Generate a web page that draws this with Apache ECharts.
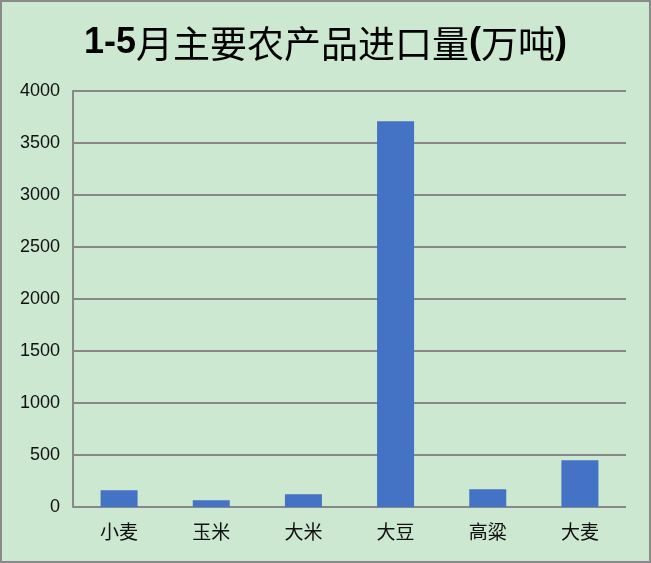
<!DOCTYPE html>
<html><head><meta charset="utf-8">
<script src="https://cdn.jsdelivr.net/npm/echarts@6/dist/echarts.min.js"></script>
<style>
html,body{margin:0;padding:0;background:#CDE8D0;}
#c{width:647px;height:559px;border:2px solid #8a8a8a;}
</style></head>
<body><div id="c"></div>
<script>
var categories = ['小麦','玉米','大米','大豆','高粱','大麦'];
var values = [160, 64, 122, 3709, 170, 449];
var yTicks = [0, 500, 1000, 1500, 2000, 2500, 3000, 3500, 4000];

var chart = echarts.init(document.getElementById('c'));
chart.setOption({
  backgroundColor: '#CDE8D0',
  animation: false,
  title: {
    text: '{a|1-5}{b|月主要农产品进口量}{a|(}{b|万吨}{a|)}',
    left: 'center',
    top: 18,
    textStyle: {
      rich: {
        a: {fontFamily: 'Liberation Sans, sans-serif', fontWeight: 'bold', fontSize: 36, color: '#000'},
        b: {fontFamily: 'Noto Sans CJK SC', fontWeight: 'normal', fontSize: 37, color: '#000'}
      }
    }
  },
  grid: {left: 71, right: 23, top: 89, bottom: 54, containLabel: false},
  xAxis: {
    type: 'category',
    data: categories,
    axisLine: {show: false},
    axisTick: {show: false},
    axisLabel: {fontFamily: 'Noto Sans CJK SC', fontSize: 19, color: '#111', margin: 15}
  },
  yAxis: {
    type: 'value',
    min: yTicks[0],
    max: yTicks[yTicks.length - 1],
    interval: 500,
    axisLine: {show: true, lineStyle: {color: '#888888', width: 2}},
    axisTick: {show: false},
    splitLine: {lineStyle: {color: '#888888', width: 2}},
    axisLabel: {fontFamily: 'Liberation Sans', fontSize: 18, color: '#111', margin: 13,
      formatter: function (v) { return String(v); }}
  },
  series: [{
    type: 'bar',
    data: values,
    barWidth: 37,
    itemStyle: {color: '#4472C4'}
  }]
});
</script></body></html>
